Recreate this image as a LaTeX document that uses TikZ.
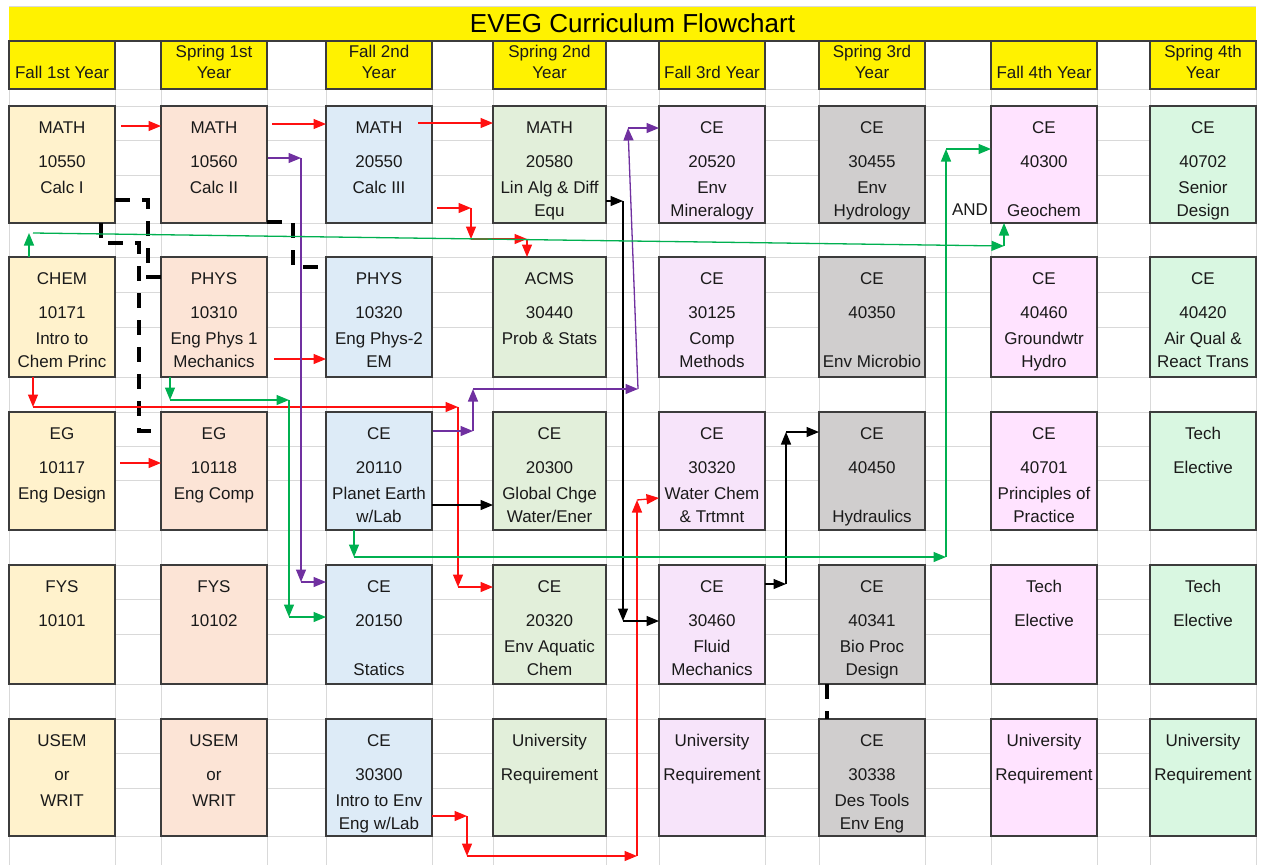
\documentclass[tikz,border=0pt]{standalone}
\usepackage{fontspec}
\setmainfont{Liberation Sans}
\usetikzlibrary{arrows.meta,calc}
\definecolor{cA}{HTML}{FFF2CC}
\definecolor{cB}{HTML}{FCE4D6}
\definecolor{cC}{HTML}{DDEBF7}
\definecolor{cD}{HTML}{E2EFDA}
\definecolor{cE}{HTML}{F7E4FA}
\definecolor{cF}{HTML}{D0CECE}
\definecolor{cG}{HTML}{FFE3FF}
\definecolor{cH}{HTML}{D9F7E1}
\definecolor{gridc}{HTML}{D9D9D9}
\definecolor{bordc}{HTML}{3C3C3C}
\definecolor{txtc}{HTML}{1A1A1A}
\definecolor{redc}{HTML}{FF1010}
\definecolor{grnc}{HTML}{00B050}
\definecolor{purc}{HTML}{7030A0}
\tikzset{
  box/.style={draw=bordc,line width=1.5pt,inner sep=0pt,outer sep=0pt,minimum width=106pt},
  hdr/.style={draw=bordc,line width=1.2pt,fill=yellow,inner sep=0pt,outer sep=0pt,minimum width=106pt,minimum height=48pt},
  lbl/.style={anchor=base,inner sep=0pt,text=txtc,font=\fontsize{17}{20}\selectfont},
  ttl/.style={anchor=base,inner sep=0pt,text=black,font=\fontsize{26}{30}\selectfont},
  gl/.style={draw=gridc,line width=1pt},
  arr/.style={line width=1.3pt,-{Triangle[length=12.5pt,width=10pt]}},
  ra/.style={arr,color=redc},
  ka/.style={arr,color=black},
  pa/.style={arr,color=purc},
  ga/.style={arr,color=grnc},
  dsh/.style={line width=3.5pt,dash pattern=on 15pt off 12pt,black},
}
\newcommand\mkcourse[9]{%
  \node[box,fill=#5,minimum height={(#4)-(#3)}] (#1) at (#2,{((#3)+(#4))/2}) {};
  \node[lbl] (#1la) at (#2,{#3+27}) {#6};
  \node[lbl] (#1lb) at (#2,{#3+61.5}) {#7};
  \node[lbl] (#1lc) at (#2,{#3+87}) {#8};
  \node[lbl] (#1ld) at (#2,{#3+110}) {#9};
}
\begin{document}
\begin{tikzpicture}[x=1pt,y=-1pt]
\useasboundingbox (0,0) rectangle (1263,865);
\fill[white] (0,0) rectangle (1263,865);
% grid
\draw[gl] (9,6) -- (1256,6);
\foreach \x in {9,115,161,267,326,432,493,606,659,765,819,925,991,1097,1150,1256}
  \draw[gl] (\x,41) -- (\x,865);
\foreach \y in {89,106,140,175,223,257,292,327,377,412,446,480,530,565,599,634,684,719,753,788,836}
  \draw[gl] (9,\y) -- (1256,\y);
% title
\node[fill=yellow,inner sep=0pt,outer sep=0pt,minimum width=1247pt,minimum height=34pt] (title) at (632.5,24) {};
\draw[bordc,line width=1.2pt] (title.south west) -- (title.south east);
\node[ttl] (titletext) at (632.5,32.6) {EVEG Curriculum Flowchart};
% headers
\node[hdr] (h1) at (62,65) {};
\node[hdr] (h2) at (214,65) {};
\node[hdr] (h3) at (379,65) {};
\node[hdr,minimum width=113pt] (h4) at (549.5,65) {};
\node[hdr] (h5) at (712,65) {};
\node[hdr] (h6) at (872,65) {};
\node[hdr] (h7) at (1044,65) {};
\node[hdr] (h8) at (1203,65) {};
\node[lbl] (h1t) at (62,78) {Fall 1st Year};
\node[lbl] (h2t) at (214,57) {Spring 1st};
\node[lbl] (h2u) at (214,78) {Year};
\node[lbl] (h3t) at (379,57) {Fall 2nd};
\node[lbl] (h3u) at (379,78) {Year};
\node[lbl] (h4t) at (549.5,57) {Spring 2nd};
\node[lbl] (h4u) at (549.5,78) {Year};
\node[lbl] (h5t) at (712,78) {Fall 3rd Year};
\node[lbl] (h6t) at (872,57) {Spring 3rd};
\node[lbl] (h6u) at (872,78) {Year};
\node[lbl] (h7t) at (1044,78) {Fall 4th Year};
\node[lbl] (h8t) at (1203,57) {Spring 4th};
\node[lbl] (h8u) at (1203,78) {Year};
% row 1
\mkcourse{m10550}{62}{106}{223}{cA}{MATH}{10550}{Calc I}{}
\mkcourse{m10560}{214}{106}{223}{cB}{MATH}{10560}{Calc II}{}
\mkcourse{m20550}{379}{106}{223}{cC}{MATH}{20550}{Calc III}{}
\mkcourse{m20580}{549.5}{106}{223}{cD,minimum width=113pt}{MATH}{20580}{Lin Alg \& Diff}{Equ}
\mkcourse{ce20520}{712}{106}{223}{cE}{CE}{20520}{Env}{Mineralogy}
\mkcourse{ce30455}{872}{106}{223}{cF}{CE}{30455}{Env}{Hydrology}
\mkcourse{ce40300}{1044}{106}{223}{cG}{CE}{40300}{}{Geochem}
\mkcourse{ce40702}{1203}{106}{223}{cH}{CE}{40702}{Senior}{Design}
% row 2
\mkcourse{chem}{62}{257}{377}{cA}{CHEM}{10171}{Intro to}{Chem Princ}
\mkcourse{phys1}{214}{257}{377}{cB}{PHYS}{10310}{Eng Phys 1}{Mechanics}
\mkcourse{phys2}{379}{257}{377}{cC}{PHYS}{10320}{Eng Phys-2}{EM}
\mkcourse{acms}{549.5}{257}{377}{cD,minimum width=113pt}{ACMS}{30440}{Prob \& Stats}{}
\mkcourse{ce30125}{712}{257}{377}{cE}{CE}{30125}{Comp}{Methods}
\mkcourse{ce40350}{872}{257}{377}{cF}{CE}{40350}{}{Env Microbio}
\mkcourse{ce40460}{1044}{257}{377}{cG}{CE}{40460}{Groundwtr}{Hydro}
\mkcourse{ce40420}{1203}{257}{377}{cH}{CE}{40420}{Air Qual \&}{React Trans}
% row 3
\mkcourse{eg1}{62}{412}{530}{cA}{EG}{10117}{Eng Design}{}
\mkcourse{eg2}{214}{412}{530}{cB}{EG}{10118}{Eng Comp}{}
\mkcourse{ce20110}{379}{412}{530}{cC}{CE}{20110}{Planet Earth}{w/Lab}
\mkcourse{ce20300}{549.5}{412}{530}{cD,minimum width=113pt}{CE}{20300}{Global Chge}{Water/Ener}
\mkcourse{ce30320}{712}{412}{530}{cE}{CE}{30320}{Water Chem}{\& Trtmnt}
\mkcourse{ce40450}{872}{412}{530}{cF}{CE}{40450}{}{Hydraulics}
\mkcourse{ce40701}{1044}{412}{530}{cG}{CE}{40701}{Principles of}{Practice}
\mkcourse{te1}{1203}{412}{530}{cH}{Tech}{Elective}{}{}
% row 4
\mkcourse{fys1}{62}{565}{684}{cA}{FYS}{10101}{}{}
\mkcourse{fys2}{214}{565}{684}{cB}{FYS}{10102}{}{}
\mkcourse{ce20150}{379}{565}{684}{cC}{CE}{20150}{}{Statics}
\mkcourse{ce20320}{549.5}{565}{684}{cD,minimum width=113pt}{CE}{20320}{Env Aquatic}{Chem}
\mkcourse{ce30460}{712}{565}{684}{cE}{CE}{30460}{Fluid}{Mechanics}
\mkcourse{ce40341}{872}{565}{684}{cF}{CE}{40341}{Bio Proc}{Design}
\mkcourse{te2}{1044}{565}{684}{cG}{Tech}{Elective}{}{}
\mkcourse{te3}{1203}{565}{684}{cH}{Tech}{Elective}{}{}
% row 5
\mkcourse{usem1}{62}{719}{836}{cA}{USEM}{or}{WRIT}{}
\mkcourse{usem2}{214}{719}{836}{cB}{USEM}{or}{WRIT}{}
\mkcourse{ce30300}{379}{719}{836}{cC}{CE}{30300}{Intro to Env}{Eng w/Lab}
\mkcourse{ur1}{549.5}{719}{836}{cD,minimum width=113pt}{University}{Requirement}{}{}
\mkcourse{ur2}{712}{719}{836}{cE}{University}{Requirement}{}{}
\mkcourse{ce30338}{872}{719}{836}{cF}{CE}{30338}{Des Tools}{Env Eng}
\mkcourse{ur3}{1044}{719}{836}{cG}{University}{Requirement}{}{}
\mkcourse{ur4}{1203}{719}{836}{cH}{University}{Requirement}{}{}
\node[lbl] (andlbl) at (970,215) {AND};
% dashed black
\draw[dsh] ($(ce40341.south west)+(8,0)$) -- ($(ce30338.north west)+(8,0)$);
\draw[dsh] ($(m10550.south east)+(0,-23)$) -| ($(phys1.north west)+(-13,20)$) -- ($(phys1.north west)+(0,20)$);
\draw[dsh] ($(m10550.south west)+(92,0)$) -- ++(0,20) -| ($(eg2.north west)+(-22,19)$) -- ($(eg2.north west)+(0,19)$);
\draw[dsh] ($(m10560.south east)+(0,-1)$) -| ($(phys2.north west)+(-33,10)$) -- ($(phys2.north west)+(0,10)$);
% red
\draw[ra] ($(m10550.north east)+(6,20)$) -- ($(m10560.north west)+(0,20)$);
\draw[ra] ($(m10560.north east)+(5,18)$) -- ($(m20550.north west)+(0,18)$);
\draw[ra] ($(m20550.north east)+(-14,17)$) -- ($(m20580.north west)+(0,17)$);
\coordinate (r4a) at ($(m20550.south east)+(5,-15)$);
\coordinate (r4b) at ($(m20550.south east)+(39,-15)$);
\coordinate (r4c) at ($(m20550.south east)+(39,16)$);
\coordinate (r4d) at ($(acms.north west)+(34,-18)$);
\draw[ra] (r4a) -- (r4b);
\draw[ra] (r4b) -- (r4c);
\draw[ra] (r4c) -- (r4d);
\draw[ra] (r4d) -- (acms.north west -| r4d);
\draw[ra] ($(phys1.south east)+(7,-18)$) -- ($(phys2.south west)+(0,-18)$);
\draw[ra] ($(eg1.north east)+(5,51)$) -- ($(eg2.north west)+(0,51)$);
\coordinate (r7a) at ($(chem.south west)+(24,0)$);
\coordinate (r7b) at ($(chem.south west)+(24,30)$);
\coordinate (r7c) at ($(ce20110.north east)+(26,-5)$);
\coordinate (r7d) at ($(ce20320.north west)+(-35,22)$);
\draw[ra] (r7a) -- (r7b);
\draw[ra] (r7b) -- (r7c);
\draw[ra] (r7c) -- (r7d);
\draw[ra] (r7d) -- (ce20320.north west |- r7d);
\coordinate (r8a) at ($(ce30300.south east)+(0,-20)$);
\coordinate (r8b) at ($(ce30300.south east)+(35,-20)$);
\coordinate (r8c) at ($(ce30300.south east)+(35,20)$);
\coordinate (r8d) at ($(ce30300.south east)+(205,20)$);
\coordinate (r8e) at ($(ce30320.south west)+(-22,-30)$);
\draw[ra] (r8a) -- (r8b);
\draw[ra] (r8b) -- (r8c);
\draw[ra] (r8c) -- (r8d);
\draw[ra] (r8d) -- (r8e);
\draw[ra] (r8e) -- ($(ce30320.south west)+(0,-32)$);
% black arrows
\coordinate (b1a) at ($(m20580.south east)+(0,-22)$);
\coordinate (b1b) at ($(m20580.south east)+(17,-22)$);
\coordinate (b1c) at ($(ce30460.north west)+(-36,56)$);
\draw[ka] (b1a) -- (b1b);
\draw[ka] (b1b) -- (b1c);
\draw[ka] (b1c) -- (ce30460.west |- b1c);
\draw[ka] ($(ce20110.south east)+(0,-25)$) -- ($(ce20300.south west)+(0,-25)$);
\coordinate (b3a) at ($(ce30460.north east)+(0,19)$);
\coordinate (b3b) at ($(ce30460.north east)+(21,19)$);
\coordinate (b3c) at ($(ce40450.north west)+(-33,20)$);
\draw[ka] (b3a) -- (b3b);
\draw[ka] (b3b) -- (b3c);
\draw[ka] (b3c) -- (ce40450.west |- b3c);
% purple
\coordinate (p1a) at ($(m10560.north east)+(1,52)$);
\coordinate (p1b) at ($(m10560.north east)+(34,52)$);
\coordinate (p1c) at ($(ce20150.north west)+(-25,17)$);
\draw[pa] (p1a) -- (p1b);
\draw[pa] (p1b) -- (p1c);
\draw[pa] (p1c) -- (ce20150.west |- p1c);
\coordinate (p2a) at ($(ce20110.north east)+(1,19)$);
\coordinate (p2b) at ($(ce20110.north east)+(41,19)$);
\coordinate (p2c) at ($(ce20110.north east)+(41,-23)$);
\coordinate (p2d) at ($(ce30320.north west)+(-21,-23)$);
\coordinate (p2e) at ($(ce20520.north west)+(-31,22)$);
\draw[pa] (p2a) -- (p2b);
\draw[pa] (p2b) -- (p2c);
\draw[pa] (p2c) -- (p2d);
\draw[pa] (p2d) -- (p2e);
\draw[pa] (p2e) -- (ce20520.west |- p2e);
% green
\coordinate (g1a) at ($(chem.north west)+(20,0)$);
\coordinate (g1b) at ($(chem.north west)+(20,-24)$);
\coordinate (g1s) at ($(chem.north west)+(24,-24)$);
\coordinate (g1c) at ($(ce40300.south west)+(13,23)$);
\draw[ga] (g1a) -- (g1b);
\draw[ga] (g1s) -- (g1c);
\draw[ga] (g1c) -- (ce40300.south west -| g1c);
\coordinate (g2a) at ($(phys1.south west)+(9,0)$);
\coordinate (g2b) at ($(phys1.south west)+(9,23)$);
\coordinate (g2c) at ($(phys1.south east)+(22,23)$);
\coordinate (g2d) at ($(ce20150.north west)+(-37,52)$);
\draw[ga] (g2a) -- (g2b);
\draw[ga] (g2b) -- (g2c);
\draw[ga] (g2c) -- (g2d);
\draw[ga] (g2d) -- (ce20150.west |- g2d);
\coordinate (g3a) at ($(ce20110.south west)+(28,0)$);
\coordinate (g3b) at ($(ce20110.south west)+(28,27)$);
\coordinate (g3c) at ($(ce40701.south west)+(-45,27)$);
\coordinate (g3d) at ($(ce40300.north west)+(-45,43)$);
\draw[ga] (g3a) -- (g3b);
\draw[ga] (g3b) -- (g3c);
\draw[ga] (g3c) -- (g3d);
\draw[ga] (g3d) -- (ce40300.west |- g3d);
\end{tikzpicture}
\end{document}
